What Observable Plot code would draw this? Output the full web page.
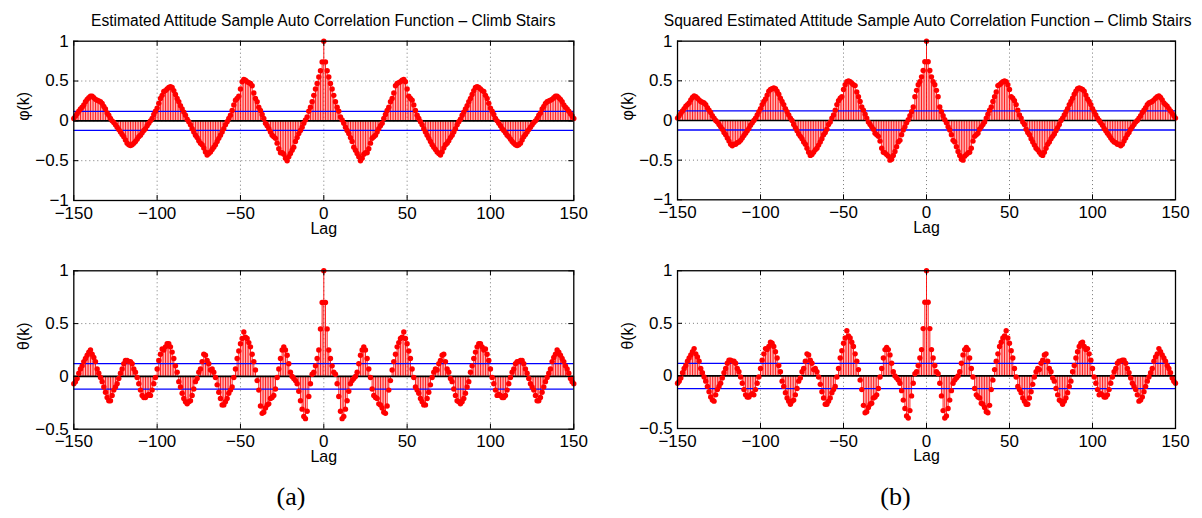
<!DOCTYPE html>
<html><head><meta charset="utf-8">
<script src="https://cdn.jsdelivr.net/npm/d3@7"></script>
<script src="https://cdn.jsdelivr.net/npm/@observablehq/plot@0.6"></script>
<style>
html,body{margin:0;padding:0;background:#fff;}
#root{position:relative;width:1202px;height:518px;overflow:hidden;background:#fff;font-family:"Liberation Sans",Arial,sans-serif;}
.panel{position:absolute;}
.title{position:absolute;transform:translateX(-50%);white-space:nowrap;font-family:"Liberation Sans",Arial,sans-serif;font-size:15.6px;line-height:1;color:#000;}
.sub{position:absolute;transform:translateX(-50%);font-family:"Liberation Serif","DejaVu Serif",serif;font-size:26px;line-height:1;color:#000;}
</style></head>
<body><div id="root"></div>
<script>
const lags = d3.range(-150, 151);

// Estimated attitude ACF, phi (lag -150 .. 150)
const phiA = [
 0.03, 0.06, 0.09, 0.12, 0.15, 0.17, 0.20, 0.24, 0.27, 0.29,
 0.31, 0.31, 0.29, 0.27, 0.26, 0.25, 0.24, 0.22, 0.18, 0.15,
 0.10, 0.07, 0.03, 0.00, -0.02, -0.05, -0.08, -0.11, -0.14, -0.17,
 -0.20, -0.24, -0.28, -0.30, -0.31, -0.30, -0.28, -0.26, -0.23, -0.20,
 -0.18, -0.15, -0.12, -0.10, -0.06, -0.03, 0.00, 0.03, 0.08, 0.12,
 0.16, 0.22, 0.28, 0.32, 0.37, 0.38, 0.40, 0.42, 0.43, 0.42,
 0.38, 0.33, 0.28, 0.24, 0.19, 0.15, 0.11, 0.07, 0.02, -0.01,
 -0.05, -0.10, -0.14, -0.18, -0.21, -0.25, -0.28, -0.30, -0.34, -0.39,
 -0.43, -0.41, -0.39, -0.36, -0.33, -0.30, -0.26, -0.22, -0.18, -0.14,
 -0.10, -0.05, -0.01, 0.03, 0.07, 0.13, 0.20, 0.26, 0.28, 0.31,
 0.40, 0.49, 0.52, 0.51, 0.49, 0.48, 0.47, 0.44, 0.35, 0.28,
 0.24, 0.17, 0.13, 0.08, 0.03, -0.03, -0.06, -0.10, -0.14, -0.18,
 -0.20, -0.22, -0.28, -0.35, -0.40, -0.40, -0.42, -0.47, -0.50, -0.45,
 -0.41, -0.37, -0.33, -0.26, -0.21, -0.16, -0.12, -0.08, -0.03, 0.01,
 0.05, 0.12, 0.17, 0.24, 0.32, 0.40, 0.47, 0.55, 0.63, 0.74,
 1.00, 0.74, 0.63, 0.55, 0.47, 0.40, 0.32, 0.24, 0.17, 0.12,
 0.05, 0.01, -0.03, -0.08, -0.12, -0.16, -0.21, -0.26, -0.33, -0.37,
 -0.41, -0.45, -0.50, -0.47, -0.42, -0.40, -0.40, -0.35, -0.28, -0.22,
 -0.20, -0.18, -0.14, -0.10, -0.06, -0.03, 0.03, 0.08, 0.13, 0.17,
 0.24, 0.28, 0.35, 0.44, 0.47, 0.48, 0.49, 0.51, 0.52, 0.49,
 0.40, 0.31, 0.28, 0.26, 0.20, 0.13, 0.07, 0.03, -0.01, -0.05,
 -0.10, -0.14, -0.18, -0.22, -0.26, -0.30, -0.33, -0.36, -0.39, -0.41,
 -0.43, -0.39, -0.34, -0.30, -0.28, -0.25, -0.21, -0.18, -0.14, -0.10,
 -0.05, -0.01, 0.02, 0.07, 0.11, 0.15, 0.19, 0.24, 0.28, 0.33,
 0.38, 0.42, 0.43, 0.42, 0.40, 0.38, 0.37, 0.32, 0.28, 0.22,
 0.16, 0.12, 0.08, 0.03, 0.00, -0.03, -0.06, -0.10, -0.12, -0.15,
 -0.18, -0.20, -0.23, -0.26, -0.28, -0.30, -0.31, -0.30, -0.28, -0.24,
 -0.20, -0.17, -0.14, -0.11, -0.08, -0.05, -0.02, 0.00, 0.03, 0.07,
 0.10, 0.15, 0.18, 0.22, 0.24, 0.25, 0.26, 0.27, 0.29, 0.31,
 0.31, 0.29, 0.27, 0.24, 0.20, 0.17, 0.15, 0.12, 0.09, 0.06, 0.03
];

// Estimated attitude ACF, theta (lag -150 .. 150)
const thetaA = [
 -0.07, -0.05, -0.02, 0.03, 0.07, 0.10, 0.14, 0.17, 0.20, 0.23,
 0.25, 0.21, 0.18, 0.14, 0.07, 0.03, -0.01, -0.05, -0.10, -0.15,
 -0.20, -0.23, -0.23, -0.18, -0.13, -0.10, -0.07, -0.02, 0.03, 0.07,
 0.12, 0.15, 0.15, 0.14, 0.14, 0.12, 0.07, 0.04, -0.01, -0.07,
 -0.13, -0.18, -0.20, -0.20, -0.18, -0.17, -0.18, -0.13, -0.07, -0.01,
 0.07, 0.15, 0.21, 0.26, 0.25, 0.28, 0.31, 0.31, 0.28, 0.23,
 0.17, 0.10, 0.04, -0.05, -0.10, -0.16, -0.21, -0.24, -0.26, -0.24,
 -0.23, -0.18, -0.12, -0.05, -0.02, 0.04, 0.07, 0.14, 0.21, 0.20,
 0.15, 0.12, 0.06, 0.07, 0.04, -0.01, -0.08, -0.15, -0.21, -0.27,
 -0.27, -0.24, -0.21, -0.16, -0.13, -0.10, -0.01, 0.07, 0.17, 0.24,
 0.31, 0.36, 0.42, 0.37, 0.36, 0.32, 0.28, 0.21, 0.14, 0.06,
 -0.04, -0.13, -0.28, -0.35, -0.34, -0.30, -0.27, -0.26, -0.21, -0.20,
 -0.18, -0.12, -0.01, 0.07, 0.17, 0.25, 0.28, 0.25, 0.20, 0.12,
 0.04, 0.00, -0.02, -0.04, -0.07, -0.14, -0.23, -0.31, -0.38, -0.40,
 -0.33, -0.19, -0.07, 0.02, 0.04, 0.10, 0.17, 0.25, 0.45, 0.70,
 1.00, 0.70, 0.45, 0.25, 0.17, 0.10, 0.04, 0.02, -0.07, -0.19,
 -0.33, -0.40, -0.38, -0.31, -0.23, -0.14, -0.07, -0.04, -0.02, 0.00,
 0.04, 0.12, 0.20, 0.25, 0.28, 0.25, 0.17, 0.07, -0.01, -0.12,
 -0.18, -0.20, -0.21, -0.26, -0.27, -0.30, -0.34, -0.35, -0.28, -0.13,
 -0.04, 0.06, 0.14, 0.21, 0.28, 0.32, 0.36, 0.37, 0.42, 0.36,
 0.31, 0.24, 0.17, 0.07, -0.01, -0.10, -0.13, -0.16, -0.21, -0.24,
 -0.27, -0.27, -0.21, -0.15, -0.08, -0.01, 0.04, 0.07, 0.06, 0.12,
 0.15, 0.20, 0.21, 0.14, 0.07, 0.04, -0.02, -0.05, -0.12, -0.18,
 -0.23, -0.24, -0.26, -0.24, -0.21, -0.16, -0.10, -0.05, 0.04, 0.10,
 0.17, 0.23, 0.28, 0.31, 0.31, 0.28, 0.25, 0.26, 0.21, 0.15,
 0.07, -0.01, -0.07, -0.13, -0.18, -0.17, -0.18, -0.20, -0.20, -0.18,
 -0.13, -0.07, -0.01, 0.04, 0.07, 0.12, 0.14, 0.14, 0.15, 0.15,
 0.12, 0.07, 0.03, -0.02, -0.07, -0.10, -0.13, -0.18, -0.23, -0.23,
 -0.20, -0.15, -0.10, -0.05, -0.01, 0.03, 0.07, 0.14, 0.18, 0.21,
 0.25, 0.23, 0.20, 0.17, 0.14, 0.10, 0.07, 0.03, -0.02, -0.05, -0.07
];

// Squared estimated attitude ACF, phi (lag -150 .. 150)
const phiB = [
 0.03, 0.06, 0.09, 0.12, 0.15, 0.18, 0.20, 0.22, 0.26, 0.29,
 0.31, 0.30, 0.28, 0.26, 0.24, 0.23, 0.22, 0.20, 0.16, 0.13,
 0.10, 0.06, 0.03, 0.00, -0.02, -0.05, -0.08, -0.11, -0.15, -0.18,
 -0.22, -0.26, -0.30, -0.32, -0.30, -0.30, -0.28, -0.27, -0.25, -0.22,
 -0.19, -0.16, -0.13, -0.10, -0.06, -0.03, 0.00, 0.03, 0.07, 0.11,
 0.15, 0.20, 0.24, 0.27, 0.32, 0.37, 0.39, 0.40, 0.41, 0.40,
 0.37, 0.33, 0.28, 0.24, 0.20, 0.15, 0.11, 0.07, 0.03, 0.00,
 -0.05, -0.09, -0.13, -0.17, -0.20, -0.23, -0.27, -0.30, -0.35, -0.40,
 -0.44, -0.43, -0.40, -0.37, -0.35, -0.31, -0.27, -0.23, -0.18, -0.15,
 -0.11, -0.05, -0.02, 0.03, 0.07, 0.13, 0.20, 0.25, 0.28, 0.30,
 0.39, 0.45, 0.49, 0.50, 0.49, 0.47, 0.45, 0.44, 0.36, 0.30,
 0.24, 0.17, 0.13, 0.08, 0.03, -0.02, -0.05, -0.08, -0.11, -0.16,
 -0.18, -0.20, -0.26, -0.35, -0.40, -0.41, -0.43, -0.45, -0.50, -0.49,
 -0.44, -0.39, -0.33, -0.27, -0.25, -0.18, -0.12, -0.08, -0.03, 0.01,
 0.06, 0.11, 0.17, 0.30, 0.38, 0.45, 0.49, 0.55, 0.63, 0.74,
 1.00, 0.74, 0.63, 0.55, 0.49, 0.45, 0.38, 0.30, 0.17, 0.11,
 0.06, 0.01, -0.03, -0.08, -0.12, -0.18, -0.25, -0.27, -0.33, -0.39,
 -0.44, -0.49, -0.50, -0.45, -0.43, -0.41, -0.40, -0.35, -0.26, -0.20,
 -0.18, -0.16, -0.11, -0.08, -0.05, -0.02, 0.03, 0.08, 0.13, 0.17,
 0.24, 0.30, 0.36, 0.44, 0.45, 0.47, 0.49, 0.50, 0.49, 0.45,
 0.39, 0.30, 0.28, 0.25, 0.20, 0.13, 0.07, 0.03, -0.02, -0.05,
 -0.11, -0.15, -0.18, -0.23, -0.27, -0.31, -0.35, -0.37, -0.40, -0.43,
 -0.44, -0.40, -0.35, -0.30, -0.27, -0.23, -0.20, -0.17, -0.13, -0.09,
 -0.05, 0.00, 0.03, 0.07, 0.11, 0.15, 0.20, 0.24, 0.28, 0.33,
 0.37, 0.40, 0.41, 0.40, 0.39, 0.37, 0.32, 0.27, 0.24, 0.20,
 0.15, 0.11, 0.07, 0.03, 0.00, -0.03, -0.06, -0.10, -0.13, -0.16,
 -0.19, -0.22, -0.25, -0.27, -0.28, -0.30, -0.30, -0.32, -0.30, -0.26,
 -0.22, -0.18, -0.15, -0.11, -0.08, -0.05, -0.02, 0.00, 0.03, 0.06,
 0.10, 0.13, 0.16, 0.20, 0.22, 0.23, 0.24, 0.26, 0.28, 0.30,
 0.31, 0.29, 0.26, 0.22, 0.20, 0.18, 0.15, 0.12, 0.09, 0.06, 0.03
];

// Squared estimated attitude ACF, theta (lag -150 .. 150)
const thetaB = [
 -0.07, -0.05, -0.02, 0.03, 0.07, 0.10, 0.14, 0.17, 0.20, 0.23,
 0.26, 0.21, 0.18, 0.14, 0.07, 0.03, -0.01, -0.05, -0.10, -0.15,
 -0.20, -0.23, -0.24, -0.18, -0.13, -0.10, -0.07, -0.02, 0.03, 0.07,
 0.12, 0.15, 0.15, 0.14, 0.14, 0.12, 0.07, 0.04, -0.01, -0.07,
 -0.13, -0.18, -0.20, -0.20, -0.18, -0.17, -0.18, -0.13, -0.07, -0.01,
 0.07, 0.15, 0.21, 0.26, 0.25, 0.28, 0.32, 0.31, 0.28, 0.23,
 0.17, 0.10, 0.04, -0.05, -0.10, -0.16, -0.21, -0.24, -0.27, -0.24,
 -0.23, -0.18, -0.12, -0.05, -0.02, 0.04, 0.07, 0.14, 0.21, 0.20,
 0.15, 0.12, 0.06, 0.07, 0.04, -0.01, -0.08, -0.15, -0.21, -0.27,
 -0.27, -0.24, -0.21, -0.16, -0.13, -0.10, -0.01, 0.07, 0.17, 0.24,
 0.31, 0.36, 0.43, 0.38, 0.36, 0.32, 0.28, 0.21, 0.14, 0.06,
 -0.04, -0.13, -0.28, -0.35, -0.34, -0.30, -0.27, -0.26, -0.21, -0.20,
 -0.18, -0.12, -0.01, 0.07, 0.17, 0.25, 0.27, 0.25, 0.20, 0.12,
 0.04, 0.00, -0.02, -0.04, -0.07, -0.14, -0.23, -0.31, -0.38, -0.40,
 -0.33, -0.19, -0.07, 0.02, 0.04, 0.10, 0.17, 0.25, 0.45, 0.70,
 1.00, 0.70, 0.45, 0.25, 0.17, 0.10, 0.04, 0.02, -0.07, -0.19,
 -0.33, -0.40, -0.38, -0.31, -0.23, -0.14, -0.07, -0.04, -0.02, 0.00,
 0.04, 0.12, 0.20, 0.25, 0.27, 0.25, 0.17, 0.07, -0.01, -0.12,
 -0.18, -0.20, -0.21, -0.26, -0.27, -0.30, -0.34, -0.35, -0.28, -0.13,
 -0.04, 0.06, 0.14, 0.21, 0.28, 0.32, 0.36, 0.38, 0.43, 0.36,
 0.31, 0.24, 0.17, 0.07, -0.01, -0.10, -0.13, -0.16, -0.21, -0.24,
 -0.27, -0.27, -0.21, -0.15, -0.08, -0.01, 0.04, 0.07, 0.06, 0.12,
 0.15, 0.20, 0.21, 0.14, 0.07, 0.04, -0.02, -0.05, -0.12, -0.18,
 -0.23, -0.24, -0.27, -0.24, -0.21, -0.16, -0.10, -0.05, 0.04, 0.10,
 0.17, 0.23, 0.28, 0.31, 0.32, 0.28, 0.25, 0.26, 0.21, 0.15,
 0.07, -0.01, -0.07, -0.13, -0.18, -0.17, -0.18, -0.20, -0.20, -0.18,
 -0.13, -0.07, -0.01, 0.04, 0.07, 0.12, 0.14, 0.14, 0.15, 0.15,
 0.12, 0.07, 0.03, -0.02, -0.07, -0.10, -0.13, -0.18, -0.24, -0.23,
 -0.20, -0.15, -0.10, -0.05, -0.01, 0.03, 0.07, 0.14, 0.18, 0.21,
 0.26, 0.23, 0.20, 0.17, 0.14, 0.10, 0.07, 0.03, -0.02, -0.05, -0.07
];

const confBound = [0.12, -0.12];
const xTicks = [-150, -100, -50, 0, 50, 100, 150];
const yTicksTop = [-1, -0.5, 0, 0.5, 1];
const yTicksBottom = [-0.5, 0, 0.5, 1];
const titles = [
  "Estimated Attitude Sample Auto Correlation Function \u2013 Climb Stairs",
  "Squared Estimated Attitude Sample Auto Correlation Function \u2013 Climb Stairs"
];
const yLabels = ["\u03c6(k)", "\u03b8(k)"];
const xLabel = "Lag";
const panelLabels = ["(a)", "(b)"];

const fmt = d3.format("");
const FRAME_W = 500;

function stemPlot(values, yDomain, yTicks, ylabel, marginTop, frameH) {
  const data = lags.map((lag, i) => ({lag, v: values[i]}));
  const inner = yTicks.filter(t => t !== yDomain[0] && t !== yDomain[1]);
  return Plot.plot({
    width: 600,
    height: marginTop + frameH + 50,
    marginLeft: 73.3, marginRight: 26.7, marginTop, marginBottom: 50,
    style: {fontFamily: '"Liberation Sans", Arial, sans-serif', fontSize: "17px", background: "white", overflow: "visible", color: "black"},
    x: {domain: [-150, 150], label: null},
    y: {domain: yDomain, label: null},
    marks: [
      Plot.gridX(xTicks.slice(1, -1), {stroke: "#555", strokeOpacity: 1, strokeWidth: 0.8, strokeDasharray: "1,3"}),
      Plot.gridY(inner, {stroke: "#555", strokeOpacity: 1, strokeWidth: 0.8, strokeDasharray: "1,3"}),
      Plot.ruleX(data, {x: "lag", y1: 0, y2: "v", stroke: "red", strokeWidth: 0.9}),
      Plot.ruleY([0], {stroke: "black", strokeWidth: 1.6}),
      Plot.ruleY(confBound, {stroke: "blue", strokeWidth: 1.3}),
      Plot.dot(data, {x: "lag", y: "v", r: 2.7, fill: "red"}),
      Plot.tickX(xTicks, {insetTop: frameH - 5, stroke: "black"}),
      Plot.tickX(xTicks, {insetBottom: frameH - 5, stroke: "black"}),
      Plot.tickY(yTicks, {insetRight: FRAME_W - 5, stroke: "black"}),
      Plot.tickY(yTicks, {insetLeft: FRAME_W - 5, stroke: "black"}),
      Plot.frame({stroke: "black", strokeWidth: 1.3}),
      Plot.axisX(xTicks, {tickSize: 0, tickPadding: 6, tickFormat: fmt, label: null}),
      Plot.axisY(yTicks, {tickSize: 0, tickPadding: 5, tickFormat: fmt, label: null}),
      Plot.text([ylabel], {text: d => d, frameAnchor: "left", dx: -50, rotate: -90, fontSize: 16}),
      Plot.text([xLabel], {text: d => d, frameAnchor: "bottom", dy: 33, fontSize: 16})
    ]
  });
}

const root = document.getElementById("root");
function place(el, left, top) {
  const d = document.createElement("div");
  d.className = "panel";
  d.style.left = left + "px";
  d.style.top = top + "px";
  d.appendChild(el);
  root.appendChild(d);
}

const colLeft = [0, 604.4];
const seriesTop = [phiA, phiB];
const seriesBottom = [thetaA, thetaB];
for (let c = 0; c < 2; c++) {
  place(stemPlot(seriesTop[c], [-1, 1], yTicksTop, yLabels[0], 10.7, 159.3), colLeft[c], 30);
  place(stemPlot(seriesBottom[c], [-0.5, 1], yTicksBottom, yLabels[1], 15.3, 158.4), colLeft[c], 255);
  const t = document.createElement("div");
  t.className = "title";
  t.textContent = titles[c];
  t.style.left = (colLeft[c] + 73.3 + FRAME_W / 2) + "px";
  t.style.top = "13px";
  root.appendChild(t);
  const s = document.createElement("div");
  s.className = "sub";
  s.textContent = panelLabels[c];
  s.style.left = (colLeft[c] + 291) + "px";
  s.style.top = "484px";
  root.appendChild(s);
}
</script>
</body></html>
